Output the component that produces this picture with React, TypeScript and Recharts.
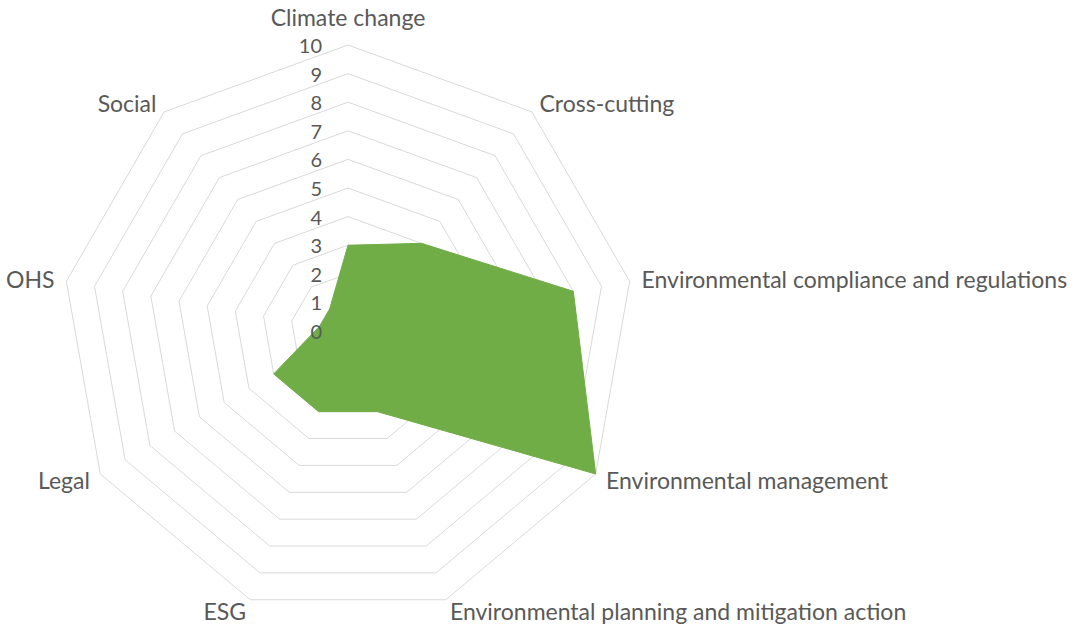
import { PolarAngleAxis, PolarGrid, PolarRadiusAxis, Radar, RadarChart } from "recharts";

const categories = [
  "Climate change",
  "Cross-cutting",
  "Environmental compliance and regulations",
  "Environmental management",
  "Environmental planning and mitigation action",
  "ESG",
  "Legal",
  "OHS",
  "Social",
];
const scores = [3, 4, 8, 10, 3, 3, 3, 1, 1];
const radiusTicks = [0, 1, 2, 3, 4, 5, 6, 7, 8, 9, 10];

const data = categories.map((category, i) => ({ category, score: scores[i] }));

const CX = 348;
const CY = 331;
const R = 286;
const FONT = "Lato, 'Open Sans', sans-serif";
const TEXT = "#595959";

function AngleTick({ payload }: any) {
  const a = (payload.coordinate * Math.PI) / 180;
  const cos = Math.cos(a);
  const sin = Math.sin(a);
  const top = Math.abs(cos) < 0.01 && sin > 0;
  const x = CX + (R + 12) * cos;
  const y = top ? CY - R - 28 : CY - (R + 12) * sin;
  const anchor = Math.abs(cos) < 0.01 ? "middle" : cos > 0 ? "start" : "end";
  return (
    <text x={x} y={y} textAnchor={anchor} dominantBaseline="central" fill={TEXT} fontSize={23} fontFamily={FONT}>
      {payload.value}
    </text>
  );
}

function RadiusTick({ x, y, payload }: any) {
  return (
    <text x={x - 26} y={y} textAnchor="end" dominantBaseline="central" fill={TEXT} fontSize={20} fontFamily={FONT}>
      {payload.value}
    </text>
  );
}

export default function App() {
  // pinned to the page corner so the body margin doesn't clip labels
  return (
    <div style={{ position: "absolute", left: 0, top: 0, width: 1080, height: 625 }}>
      <RadarChart width={1080} height={625} data={data} cx={CX} cy={CY} outerRadius={R}>
        <PolarGrid gridType="polygon" radialLines={false} stroke="#d9d9d9" />
        <PolarAngleAxis dataKey="category" tick={<AngleTick />} tickLine={false} axisLine={false} />
        <PolarRadiusAxis
          angle={90}
          domain={[0, 10]}
          ticks={radiusTicks as any}
          tickCount={11}
          tick={<RadiusTick />}
          axisLine={false}
          tickLine={false}
        />
        <Radar dataKey="score" fill="#70ad47" fillOpacity={1} stroke="#70ad47" isAnimationActive={false} />
      </RadarChart>
    </div>
  );
}
